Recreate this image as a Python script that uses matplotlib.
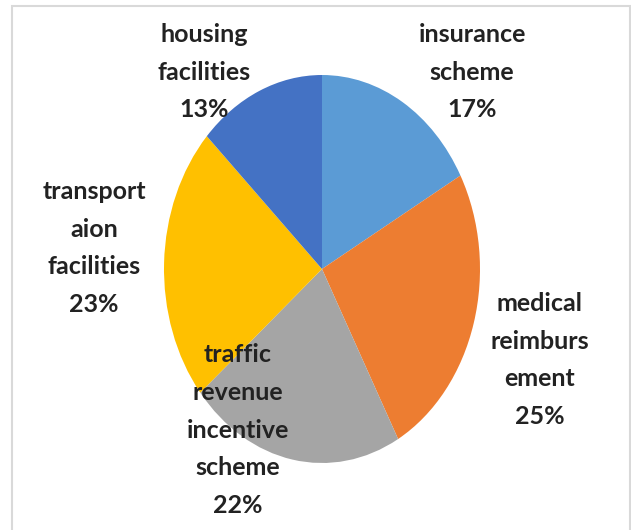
import matplotlib
matplotlib.use("Agg")
import matplotlib.pyplot as plt
from matplotlib.patches import Rectangle

# benefit shares, clockwise from 12 o'clock
labels = ["insurance\nscheme", "medical\nreimburs\nement", "traffic\nrevenue\nincentive\nscheme",
          "transport\naion\nfacilities", "housing\nfacilities"]
shares = [17, 25, 22, 23, 13]
colors = ["#5B9BD5", "#ED7D31", "#A5A5A5", "#FFC000", "#4472C4"]

# label block centres in pixels from the top-left corner
label_xy = [(472, 72), (540, 360), (238, 430), (94, 248), (204, 72)]

W, H = 631, 530
cx, cy = 322, 269      # pie centre (px from top-left)
rx, ry = 158, 194      # horizontal / vertical radius in px

fig = plt.figure(figsize=(W / 100, H / 100), dpi=100)
ax = fig.add_axes([0, 0, 1, 1])
ax.pie(shares, colors=colors, startangle=90, counterclock=False,
       wedgeprops=dict(linewidth=0))
# stretch the pie vertically
ax.set_aspect("auto")
ax.set_xlim(-cx / rx, (W - cx) / rx)
ax.set_ylim(-(H - cy) / ry, cy / ry)
ax.axis("off")

for lab, v, (x, y) in zip(labels, shares, label_xy):
    fig.text(x / W, 1 - y / H, f"{lab}\n{v}%", ha="center", va="center",
             fontsize=18, fontweight="bold", color="#222222",
             family=["Lato", "DejaVu Sans"],
             linespacing=1.78, zorder=5)

# chart area border
fig.patches.append(Rectangle((11.5 / W, -0.05), (W - 13) / W, 1.05 - 5.5 / H,
                             transform=fig.transFigure, fill=False,
                             edgecolor="#d9d9d9", linewidth=1.5))

fig.savefig("out.png", dpi=100)
